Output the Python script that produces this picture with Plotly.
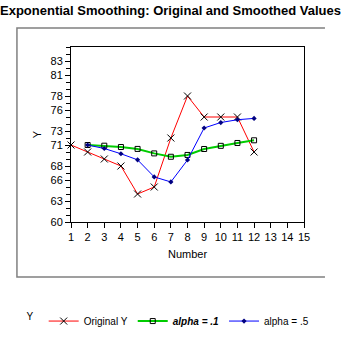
import plotly.graph_objects as go

number = list(range(1, 13))
y_orig = [71, 70, 69, 68, 64, 65, 72, 78, 75, 75, 75, 70]
x_smooth = list(range(2, 13))
alpha1 = [71, 70.9, 70.71, 70.44, 69.8, 69.32, 69.58, 70.43, 70.88, 71.29, 71.67]
alpha5 = [71, 70.5, 69.75, 68.88, 66.44, 65.72, 68.86, 73.43, 74.21, 74.61, 74.8]
y_tickvals = [60, 63, 66, 68, 71, 73, 76, 78, 81, 83]
x_tickvals = list(range(1, 16))

FONT = "Liberation Sans, Arial, sans-serif"

fig = go.Figure()
fig.add_trace(go.Scatter(
    x=number, y=y_orig, name="Original Y", mode="lines+markers",
    line=dict(color="#FF0000", width=1),
    marker=dict(symbol="x-thin", size=7, color="black", line=dict(color="black", width=1)),
    cliponaxis=False,
))
fig.add_trace(go.Scatter(
    x=x_smooth, y=alpha1, name="<b><i>alpha = .1</i></b>", mode="lines+markers",
    line=dict(color="#00CC00", width=2),
    marker=dict(symbol="square-open", size=5, color="black", line=dict(color="black", width=1)),
    cliponaxis=False,
))
fig.add_trace(go.Scatter(
    x=x_smooth, y=alpha5, name="alpha = .5", mode="lines+markers",
    line=dict(color="#0000FF", width=1),
    marker=dict(symbol="diamond", size=4, color="#000080"),
    cliponaxis=False,
))

fig.update_layout(
    width=341, height=356,
    margin=dict(l=71, r=37, t=47, b=134, pad=0),
    paper_bgcolor="white", plot_bgcolor="white",
    font=dict(family=FONT, size=11, color="black"),
    title=dict(text="<b>Exponential Smoothing: Original and Smoothed Values</b>",
               x=0.5, xanchor="center", y=0.972, yanchor="middle",
               font=dict(family=FONT, size=13, color="black")),
    showlegend=True,
    legend=dict(orientation="h", x=-0.2, xanchor="left", y=-0.566, yanchor="middle",
                title=dict(text="Y ", side="left", font=dict(size=10)),
                itemwidth=30, font=dict(size=10), bgcolor="rgba(0,0,0,0)",
                tracegroupgap=0, itemsizing="trace"),
    xaxis=dict(range=[1, 15], tickmode="array", tickvals=x_tickvals,
               ticks="outside", ticklen=5, tickcolor="black", tickwidth=1,
               showgrid=False, zeroline=False, showline=True, linecolor="black",
               linewidth=1, mirror=True,
               title=dict(text="Number", standoff=8, font=dict(size=11)),
               tickfont=dict(size=11)),
    yaxis=dict(range=[60, 85], tickmode="array", tickvals=y_tickvals,
               ticks="outside", ticklen=5, tickcolor="black", tickwidth=1,
               minor=dict(tickvals=list(range(60, 86)), ticks="outside", ticklen=4,
                          tickcolor="black", tickwidth=1, showgrid=False),
               showgrid=False, zeroline=False, showline=True, linecolor="black",
               linewidth=1, mirror=True,
               title=dict(text="Y", standoff=6, font=dict(size=11)),
               tickfont=dict(size=11)),
    shapes=[
        dict(type="path", xref="paper", yref="paper", layer="above",
             path="M 1.09,1.109 L -0.232,1.109 L -0.232,-0.314 L 1.09,-0.314",
             line=dict(color="#808080", width=1.5)),
    ],
)

fig.write_html("out.html")
